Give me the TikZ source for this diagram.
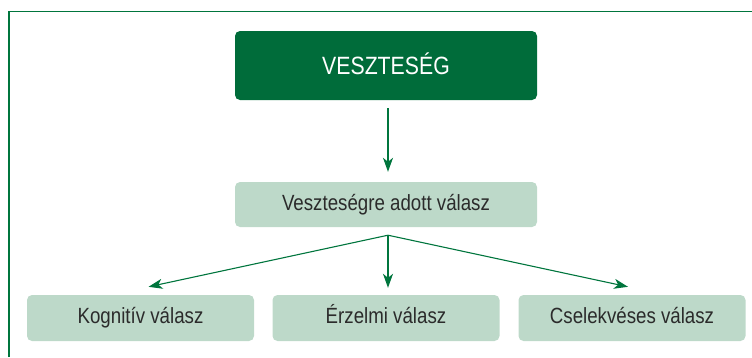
\documentclass[tikz,border=0pt]{standalone}
\usepackage{fontspec}
\setmainfont[FakeStretch=0.85]{Liberation Sans}
\usetikzlibrary{arrows.meta}
\definecolor{darkgr}{HTML}{006C3A}
\definecolor{lightgr}{HTML}{BDD9C9}
\definecolor{linegr}{HTML}{00753D}
\definecolor{txtgr}{HTML}{2B2B2B}
\tikzset{
  topbox/.style={fill=darkgr, rounded corners=5pt, minimum width=302pt, minimum height=69pt, text=white, text height=17pt, text depth=0pt, font=\fontsize{25}{29}\selectfont},
  subbox/.style={fill=lightgr, rounded corners=5pt, minimum height=45pt, text=txtgr, text height=15pt, text depth=4pt, font=\fontsize{22}{26}\selectfont},
  arr/.style={draw=linegr, line width=1.1pt, -{Stealth[length=14pt,width=10pt,inset=4pt]}}
}
\begin{document}
\begin{tikzpicture}[x=1pt,y=1pt]
  \useasboundingbox (0,0) rectangle (752,-357);
  % frame
  \draw[linegr, line width=1.2pt] (9,-357) -- (9,-11.5) -- (752,-11.5);

  \node[topbox] (loss) at (386,-65.5) {VESZTESÉG};
  \node[subbox, minimum width=302pt] (resp) at (386,-204.5) {Veszteségre adott válasz};

  \node[subbox, minimum width=227pt, minimum height=46pt] (kog) at (140.5,-318) {Kognitív válasz};
  \node[subbox, minimum width=227pt, minimum height=46pt] (erz) at (386,-318) {Érzelmi válasz};
  \node[subbox, minimum width=227pt, minimum height=46pt] (cse) at (632,-318) {Cselekvéses válasz};

  \coordinate (fork) at ([xshift=2pt,yshift=-8pt]resp.south);
  \draw[arr] ([xshift=2pt,yshift=-8pt]loss.south) -- ([xshift=2pt,yshift=10pt]resp.north);
  \draw[arr] (fork) -- ([xshift=8pt,yshift=8pt]kog.north);
  \draw[arr] (fork) -- ([xshift=2pt,yshift=7pt]erz.north);
  \draw[arr] (fork) -- ([xshift=-4pt,yshift=8pt]cse.north);
\end{tikzpicture}
\end{document}
